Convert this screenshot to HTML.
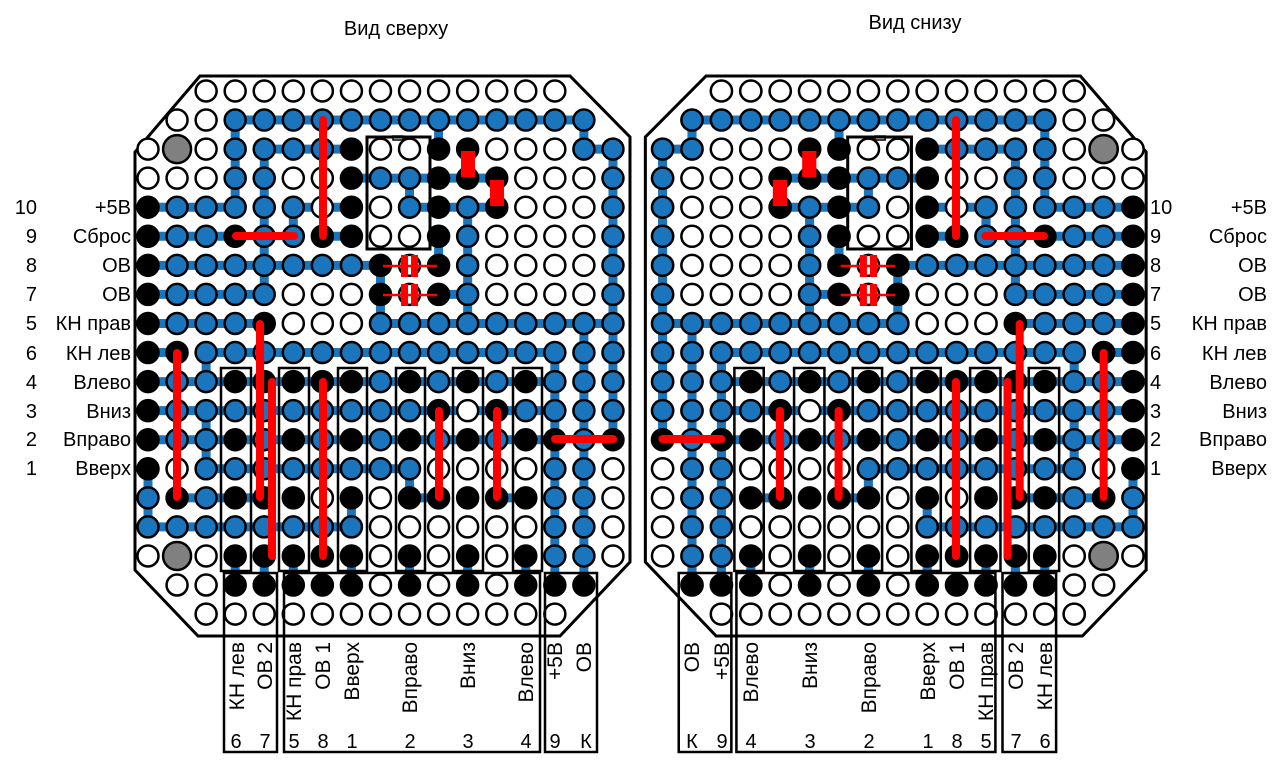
<!DOCTYPE html>
<html><head><meta charset="utf-8">
<style>
html,body{margin:0;padding:0;background:#fff;}
svg{display:block;}
text{font-family:"Liberation Sans",sans-serif;font-size:20px;fill:#000;}
.rot text{font-size:21px;}
</style></head>
<body>
<svg id="s" width="1280" height="764" viewBox="0 0 1280 764" xmlns="http://www.w3.org/2000/svg">
<defs><g id="board"></g></defs>
<use href="#board"/>
<use href="#board" transform="translate(1133,0) scale(-1.0117,1) translate(-148,0)"/>
<text x="396" y="35" text-anchor="middle">Вид сверху</text>
<text x="915" y="29" text-anchor="middle">Вид снизу</text>
<g text-anchor="end">
<text x="37" y="214">10</text><text x="131" y="214">+5В</text>
<text x="37" y="243">9</text><text x="131" y="243">Сброс</text>
<text x="37" y="272">8</text><text x="131" y="272">ОВ</text>
<text x="37" y="301">7</text><text x="131" y="301">ОВ</text>
<text x="37" y="330">5</text><text x="131" y="330">КН прав</text>
<text x="37" y="360">6</text><text x="131" y="360">КН лев</text>
<text x="37" y="389">4</text><text x="131" y="389">Влево</text>
<text x="37" y="418">3</text><text x="131" y="418">Вниз</text>
<text x="37" y="446">2</text><text x="131" y="446">Вправо</text>
<text x="37" y="475">1</text><text x="131" y="475">Вверх</text>
<text x="1267" y="214">+5В</text>
<text x="1267" y="243">Сброс</text>
<text x="1267" y="272">ОВ</text>
<text x="1267" y="301">ОВ</text>
<text x="1267" y="330">КН прав</text>
<text x="1267" y="360">КН лев</text>
<text x="1267" y="389">Влево</text>
<text x="1267" y="418">Вниз</text>
<text x="1267" y="446">Вправо</text>
<text x="1267" y="475">Вверх</text>
</g>
<g>
<text x="1150" y="214">10</text><text x="1150" y="243">9</text><text x="1150" y="272">8</text>
<text x="1150" y="301">7</text><text x="1150" y="330">5</text><text x="1150" y="360">6</text>
<text x="1150" y="389">4</text><text x="1150" y="418">3</text><text x="1150" y="446">2</text>
<text x="1150" y="475">1</text>
</g>
<g text-anchor="end" class="rot">
<text transform="translate(244,642) rotate(-90)">КН лев</text>
<text transform="translate(272,642) rotate(-90)">ОВ 2</text>
<text transform="translate(301,642) rotate(-90)">КН прав</text>
<text transform="translate(330,642) rotate(-90)">ОВ 1</text>
<text transform="translate(359,642) rotate(-90)">Вверх</text>
<text transform="translate(417,642) rotate(-90)">Вправо</text>
<text transform="translate(475,642) rotate(-90)">Вниз</text>
<text transform="translate(533,642) rotate(-90)">Влево</text>
<text transform="translate(562,642) rotate(-90)">+5В</text>
<text transform="translate(591,642) rotate(-90)">ОВ</text>
<text transform="translate(699,642) rotate(-90)">ОВ</text>
<text transform="translate(729,642) rotate(-90)">+5В</text>
<text transform="translate(758,642) rotate(-90)">Влево</text>
<text transform="translate(817,642) rotate(-90)">Вниз</text>
<text transform="translate(876,642) rotate(-90)">Вправо</text>
<text transform="translate(935,642) rotate(-90)">Вверх</text>
<text transform="translate(964,642) rotate(-90)">ОВ 1</text>
<text transform="translate(993,642) rotate(-90)">КН прав</text>
<text transform="translate(1023,642) rotate(-90)">ОВ 2</text>
<text transform="translate(1052,642) rotate(-90)">КН лев</text>
</g>
<g text-anchor="middle" style="font-size:21px">
<text x="236" y="748">6</text><text x="265" y="748">7</text><text x="294" y="748">5</text>
<text x="323" y="748">8</text><text x="352" y="748">1</text><text x="410" y="748">2</text>
<text x="468" y="748">3</text><text x="526" y="748">4</text><text x="555" y="748">9</text>
<text x="586" y="748">К</text>
<text x="692" y="748">К</text><text x="722" y="748">9</text><text x="751" y="748">4</text>
<text x="810" y="748">3</text><text x="869" y="748">2</text><text x="928" y="748">1</text>
<text x="957" y="748">8</text><text x="986" y="748">5</text><text x="1016" y="748">7</text>
<text x="1045" y="748">6</text>
</g>
</svg>
<script>
(function(){
var NS="http://www.w3.org/2000/svg";
var g=document.getElementById("board");
function el(t,a){var e=document.createElementNS(NS,t);for(var k in a)e.setAttribute(k,a[k]);g.appendChild(e);return e;}
function X(c){return 148+c*29.06;}
function Y(r){return 91+r*29.06;}
el("polygon",{points:"200,76 570,76 630,137 630,562 560,636 198,636 135,570 135,152",fill:"#fff",stroke:"#000","stroke-width":3});
var map=[
"  .............  ",
" ..bbbbbbbbbbbbb ",
".g.bbbbk..kk...bb",
"...bb..kbbkkk...b",
"kbbbbb.k.bkbk...b",
"kbbkbbkk..kb....b",
"kbbbbbbbk.kb....b",
"kbbbb...k.kb....b",
"kbbbk...bbbbbbbbb",
"kkbbbbbbbbbbbbbbb",
"kbbkkkkkbkbkbkbbb",
"kbbbbbbbbbk.kbbbb",
"kbbkbkbkbkbkbkkbk",
"k.bbbbbbbb....bb.",
"bkbkkk.k.kkkkkbb.",
"bbbbbbbb......bb.",
".g.kkkkk.k.k.kbb.",
" ..kkkkk.k.k.kkk ",
"  .............  "];
var T=[[1,3,1,15],[2,15,2,16],[2,4,2,7],[3,7,3,12],[4,0,4,3],[4,5,4,7],[4,9,4,12],[5,0,5,3],[5,6,5,7],[6,0,6,8],[7,0,7,4],[7,10,7,11],[8,0,8,4],[8,8,8,16],[9,0,9,1],[9,2,9,14],[10,0,10,14],[11,0,11,14],[12,0,12,14],[13,2,13,9],[14,1,14,4],[14,9,14,10],[14,12,14,13],[15,0,15,7],
[1,3,4,3],[2,4,7,4],[4,5,5,5],[3,9,4,9],[1,10,2,10],[5,10,6,10],[4,11,8,11],[6,8,8,8],[1,15,2,15],[2,16,12,16],[8,15,17,15],[9,14,17,14],[9,2,10,2],[11,2,13,2],[13,0,15,0],[13,9,14,9],[14,7,15,7],
[16,3,17,3],[16,4,17,4],[16,5,17,5],[16,7,17,7],[16,9,17,9],[16,11,17,11],[16,13,17,13]];
T.forEach(function(t){el("line",{x1:X(t[1]),y1:Y(t[0]),x2:X(t[3]),y2:Y(t[2]),stroke:"#1b75bc","stroke-width":9});});
for(var r=0;r<map.length;r++)for(var c=0;c<17;c++){var ch=map[r][c];if(ch==" ")continue;
 if(ch=="g"){el("circle",{cx:X(c),cy:Y(r),r:14,fill:"#808080",stroke:"#000","stroke-width":2.5});continue;}
 el("circle",{cx:X(c),cy:Y(r),r:10.5,fill:ch=="b"?"#1b75bc":(ch=="k"?"#000":"#fff"),stroke:"#000","stroke-width":2.5});}
var R=[[323,120,323,236],[236,236,294,236],[177,353,177,497],[260,324,260,497],[272,382,272,556],[323,382,323,556],[439,411,439,497],[497,411,497,497],[555,439,613,439]];
R.forEach(function(t){el("line",{x1:t[0],y1:t[1],x2:t[2],y2:t[3],stroke:"#ff0000","stroke-width":8,"stroke-linecap":"round"});});
el("rect",{x:461,y:151,width:14,height:26,fill:"#ff0000"});
el("rect",{x:490,y:180,width:14,height:26,fill:"#ff0000"});
[266,295].forEach(function(y){
 el("line",{x1:383,y1:y,x2:437,y2:y,stroke:"#ff0000","stroke-width":2.5});
 el("rect",{x:401,y:y-11,width:7,height:22,fill:"#ff0000"});
 el("rect",{x:411,y:y-11,width:7,height:22,fill:"#ff0000"});
});
el("rect",{x:367,y:137,width:63,height:112,fill:"none",stroke:"#000","stroke-width":3});
el("rect",{x:393,y:136,width:10,height:4,fill:"none",stroke:"#000","stroke-width":1.5});
[[221,251],[279,309],[338,367],[396,425],[453,483],[513,542]].forEach(function(b){
 el("rect",{x:b[0],y:368,width:b[1]-b[0],height:203,fill:"none",stroke:"#000","stroke-width":2.5});});
[[224,277],[284,540],[545,597]].forEach(function(b){
 el("rect",{x:b[0],y:573,width:b[1]-b[0],height:179,fill:"none",stroke:"#000","stroke-width":2.5});});
})();
</script>
</body></html>
